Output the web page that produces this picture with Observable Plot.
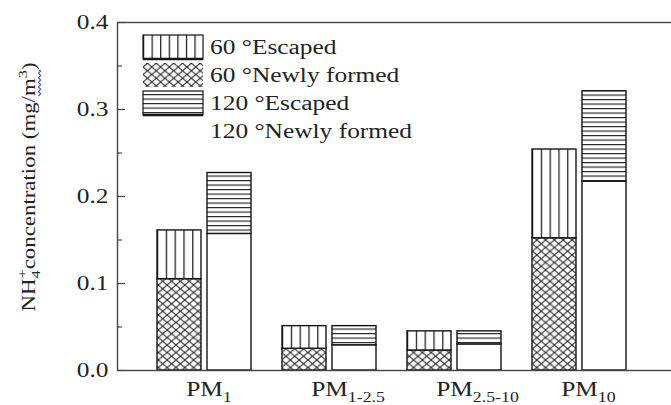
<!DOCTYPE html>
<html>
<head>
<meta charset="utf-8">
<script src="https://cdn.jsdelivr.net/npm/d3@7"></script>
<script src="https://cdn.jsdelivr.net/npm/@observablehq/plot@0.6"></script>
<style>
  html, body { margin: 0; padding: 0; background: white; }
  #chart { width: 671px; height: 405px; }
</style>
</head>
<body>
<div id="chart"></div>
<script>
// Size classes on the x axis
const categories = ["PM1", "PM1-2.5", "PM2.5-10", "PM10"];

// NH4+ concentration (mg/m3), split into newly formed and escaped parts
const newly60    = [0.105, 0.025, 0.023, 0.152];
const escaped60  = [0.056, 0.026, 0.022, 0.102];
const newly120   = [0.157, 0.029, 0.030, 0.217];
const escaped120 = [0.070, 0.022, 0.015, 0.104];

// Axis ticks
const yTicks = [0, 0.1, 0.2, 0.3, 0.4];
const yMinorTicks = [0.05, 0.15, 0.25, 0.35];

// Legend entries
const legendLabels = ["60 \u00b0Escaped", "60 \u00b0Newly formed", "120 \u00b0Escaped", "120 \u00b0Newly formed"];

// Hatch fill for each temperature / part combination
const fills = {
  "60 Escaped": "url(#vl5)",
  "60 Newly formed": "url(#xh)",
  "120 Escaped": "url(#hl)",
  "120 Newly formed": "white"
};

const rows = [];
categories.forEach((c, i) => {
  rows.push({category: c, temp: "60", part: "Newly formed", value: newly60[i]});
  rows.push({category: c, temp: "60", part: "Escaped", value: escaped60[i]});
  rows.push({category: c, temp: "120", part: "Newly formed", value: newly120[i]});
  rows.push({category: c, temp: "120", part: "Escaped", value: escaped120[i]});
});
rows.forEach(d => d.pattern = fills[d.temp + " " + d.part]);

const W = 671, H = 405;
const mL = 117, mR = 0, mT = 22, mB = 35;
const plotW = W - mL - mR;
const ink = "#151515";
const axisInk = "#444";
const NS = "http://www.w3.org/2000/svg";

const chart = Plot.plot({
  width: W,
  height: H,
  marginLeft: mL,
  marginRight: mR,
  marginTop: mT,
  marginBottom: mB,
  style: {fontFamily: "'Liberation Serif', 'Times New Roman', serif", fontSize: "20px", color: "#222", background: "white"},
  x: {domain: categories, paddingInner: 0.248, paddingOuter: 0.34, align: 0.47, label: null},
  y: {domain: [0, 0.4], label: null},
  color: {type: "identity"},
  marks: [
    Plot.barY(rows.filter(d => d.temp === "60"), {
      x: "category", y: "value", z: "part", fill: "pattern",
      stroke: ink, strokeWidth: 1.4, insetRight: 50
    }),
    Plot.barY(rows.filter(d => d.temp === "120"), {
      x: "category", y: "value", z: "part", fill: "pattern",
      stroke: ink, strokeWidth: 1.4, insetLeft: 50
    }),
    Plot.frame({stroke: axisInk, strokeWidth: 1.4, insetRight: -4}),
    Plot.tickY(yMinorTicks, {y: d => d, stroke: axisInk, strokeWidth: 1.2, insetRight: plotW - 5}),
    Plot.tickY(yTicks, {y: d => d, stroke: axisInk, strokeWidth: 1.2, insetRight: plotW - 8}),
    Plot.axisX({tickSize: 0, tickPadding: 11, fontSize: 20}),
    Plot.axisY({ticks: yTicks, tickFormat: ".1f", tickSize: 0, tickPadding: 9, fontSize: 20})
  ]
});
document.getElementById("chart").appendChild(chart);

const svg = d3.select(chart);
const defs = svg.insert("defs", ":first-child");

// Vertical lines, n columns per filled box
function verticalLines(id, n) {
  const p = defs.append("pattern").attr("id", id)
    .attr("patternUnits", "objectBoundingBox").attr("width", 1 / n).attr("height", 1);
  p.append("rect").attr("width", 300).attr("height", 3000).attr("fill", "white");
  p.append("line").attr("x1", 0.6).attr("x2", 0.6).attr("y1", 0).attr("y2", 3000)
    .attr("stroke", ink).attr("stroke-width", 1.2);
}
verticalLines("vl5", 5);
verticalLines("vl7", 7);

// Horizontal lines
{
  const p = defs.append("pattern").attr("id", "hl")
    .attr("patternUnits", "userSpaceOnUse").attr("width", 10).attr("height", 4.5);
  p.append("rect").attr("width", 10).attr("height", 4.5).attr("fill", "white");
  p.append("line").attr("x1", 0).attr("x2", 10).attr("y1", 0.6).attr("y2", 0.6)
    .attr("stroke", ink).attr("stroke-width", 1.1);
}

// Cross hatch
{
  const w = 8.8, h = 7.5;
  const p = defs.append("pattern").attr("id", "xh")
    .attr("patternUnits", "userSpaceOnUse").attr("width", w).attr("height", h);
  p.append("rect").attr("width", w).attr("height", h).attr("fill", "white");
  p.append("path")
    .attr("d", `M${-w * 0.2},${-h * 0.2}L${w * 1.2},${h * 1.2}M${w * 1.2},${-h * 0.2}L${-w * 0.2},${h * 1.2}`)
    .attr("stroke", "#2a2a2a").attr("stroke-width", 1.1).attr("fill", "none");
}

// Legend inside the frame, top left
const legendFills = ["url(#vl7)", "url(#xh)", "url(#hl)", "none"];
const legendEdged = [true, false, true, false];
const lg = svg.append("g").attr("transform", `translate(${mL + 26},${mT})`);
legendLabels.forEach((label, i) => {
  const cy = 25 + 28 * i;
  if (legendFills[i] !== "none") {
    lg.append("rect").attr("x", 0).attr("y", cy - 12).attr("width", 60).attr("height", 24)
      .attr("fill", legendFills[i])
      .attr("stroke", legendEdged[i] ? ink : "none").attr("stroke-width", 1.2);
  }
  if (legendEdged[i]) {
    lg.append("line").attr("x1", 0).attr("x2", 60).attr("y1", cy + 12).attr("y2", cy + 12)
      .attr("stroke", ink).attr("stroke-width", 2.6);
  }
  lg.append("text").attr("transform", `translate(67,${cy + 7})`)
    .attr("text-anchor", "start")
    .attr("fill", "#222").attr("font-size", 20).text(label);
});

// Y axis title with NH4+ and m3 typeset
const yTitle = svg.append("text")
  .attr("transform", `translate(35,${mT + 165}) rotate(-90)`)
  .attr("text-anchor", "middle").attr("fill", "#222").attr("font-size", 18);
yTitle.append("tspan").text("NH");
yTitle.append("tspan").attr("font-size", 13).attr("dy", 5).text("4");
yTitle.append("tspan").attr("font-size", 13).attr("dx", -6.5).attr("dy", -13).text("+");
yTitle.append("tspan").attr("dy", 8).text("concentration (mg/");
yTitle.append("tspan").text("m");
yTitle.append("tspan").attr("font-size", 13).attr("dy", -8).text("3");
yTitle.append("tspan").attr("dy", 8).text(")");

// The serif face in this figure is set wide: stretch every label horizontally
function widen(root, k) {
  root.querySelectorAll("text").forEach(t => {
    const g = document.createElementNS(NS, "g");
    const tr = t.getAttribute("transform") || "";
    g.setAttribute("transform", `${tr} scale(${k},1)`);
    t.removeAttribute("transform");
    t.parentNode.insertBefore(g, t);
    g.appendChild(t);
  });
}
widen(chart, 1.27);

// Blue spell-check squiggle under "m3" in the axis title
{
  const t = yTitle.node();
  const full = t.textContent;
  const i0 = full.lastIndexOf("m");
  const x0 = t.getStartPositionOfChar(i0).x;
  const x1 = t.getEndPositionOfChar(i0 + 1).x;
  const y0 = 3.5, step = 1.8;
  let d = `M${x0},${y0}`;
  for (let x = x0, k = 0; x < x1; x += step, k++) {
    d += `L${Math.min(x + step, x1)},${y0 + (k % 2 ? 0 : 2.2)}`;
  }
  d3.select(t.parentNode).append("path").attr("d", d)
    .attr("fill", "none").attr("stroke", "#3347d6").attr("stroke-width", 0.9);
}

// PM size labels: "PM" centred under the group, size range as subscript
chart.querySelectorAll('g[aria-label="x-axis tick label"] text').forEach(t => {
  const label = t.textContent;
  const main = label.slice(0, 2), sub = label.slice(2);
  t.textContent = main;
  const w = t.getComputedTextLength();
  t.setAttribute("text-anchor", "start");
  t.setAttribute("x", -w / 2);
  const s = document.createElementNS(NS, "tspan");
  s.setAttribute("font-size", 14);
  s.setAttribute("dy", 6);
  s.textContent = sub;
  t.appendChild(s);
});
</script>
</body>
</html>
